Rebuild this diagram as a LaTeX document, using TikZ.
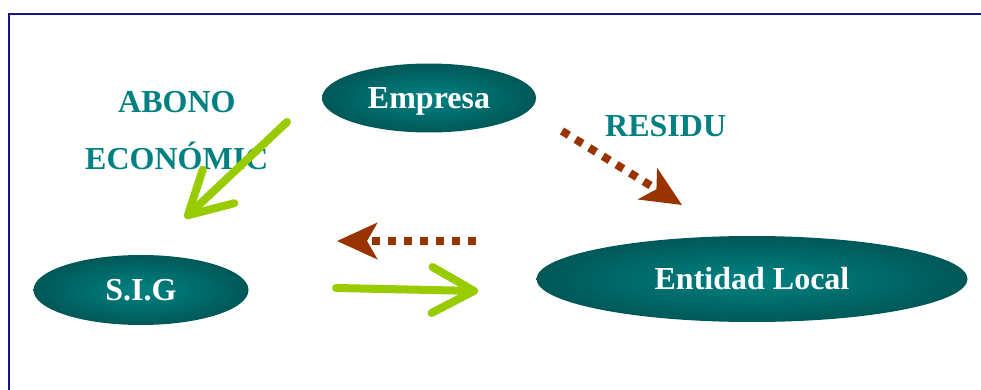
\documentclass[tikz,border=0pt]{standalone}
\usepackage{fontspec}
\setmainfont{Liberation Serif}
\usetikzlibrary{shapes,arrows.meta,positioning}
\definecolor{tealtext}{RGB}{0,128,128}
\definecolor{tealmid}{RGB}{0,130,130}
\definecolor{tealdark}{RGB}{0,88,88}
\definecolor{limeflow}{RGB}{153,204,0}
\definecolor{rustflow}{RGB}{153,51,0}
\definecolor{framenavy}{RGB}{20,20,140}
\tikzset{
  bigfont/.style = {font=\bfseries\fontsize{32}{36}\selectfont},
  entity/.style  = {ellipse, inner sep=0pt, bigfont, text=white,
                    inner color=tealmid, outer color=tealdark,
                    text height=21pt, text depth=0pt},
  tag/.style     = {bigfont, text=tealtext, inner sep=0pt, anchor=base west},
  money/.style   = {draw=limeflow, line width=8pt, line cap=round,
                    -{Straight Barb[length=42pt 0, width=46pt 0, round]}},
  waste/.style   = {draw=rustflow, line width=8pt, dash pattern=on 8pt off 8pt,
                    -{Stealth[length=40pt 0, width=36pt 0, inset=10pt 0]}},
  frame/.style   = {draw=framenavy, line width=2pt}
}

\begin{document}
\begin{tikzpicture}[x=1pt, y=-1pt]
    \useasboundingbox (0,0) rectangle (981,390);
    \draw[frame] (9,390) |- (981,14);

    \node[entity, minimum width=214pt, minimum height=69pt] (empresa) at (429,98)  {Empresa};
    \node[entity, minimum width=215pt, minimum height=70pt] (sig)     at (141,290) {S.I.G};
    \node[entity, minimum width=431pt, minimum height=86pt] (entidad) at (752,279) {Entidad Local};

    \node[tag] (abono)    at (118,113) {ABONO};
    \node[tag] (economic) at (85,170)  {ECONÓMIC};
    \node[tag] (residu)   at (605,137) {RESIDU};

    % flow ends
    \coordinate (pay1)  at (287,122);
    \coordinate (pay2)  at (185,218);
    \coordinate (pay3)  at (336,288);
    \coordinate (pay4)  at (478,291);
    \coordinate (res1)  at (562,131);
    \coordinate (res2)  at (682,205);
    \coordinate (res3)  at (476,241);
    \coordinate (res4)  at (337,241);

    \draw[money] (pay1) -- (pay2);
    \draw[money] (pay3) -- (pay4);
    \draw[waste] (res1) -- (res2);
    \draw[waste] (res3) -- (res4);
\end{tikzpicture}
\end{document}
